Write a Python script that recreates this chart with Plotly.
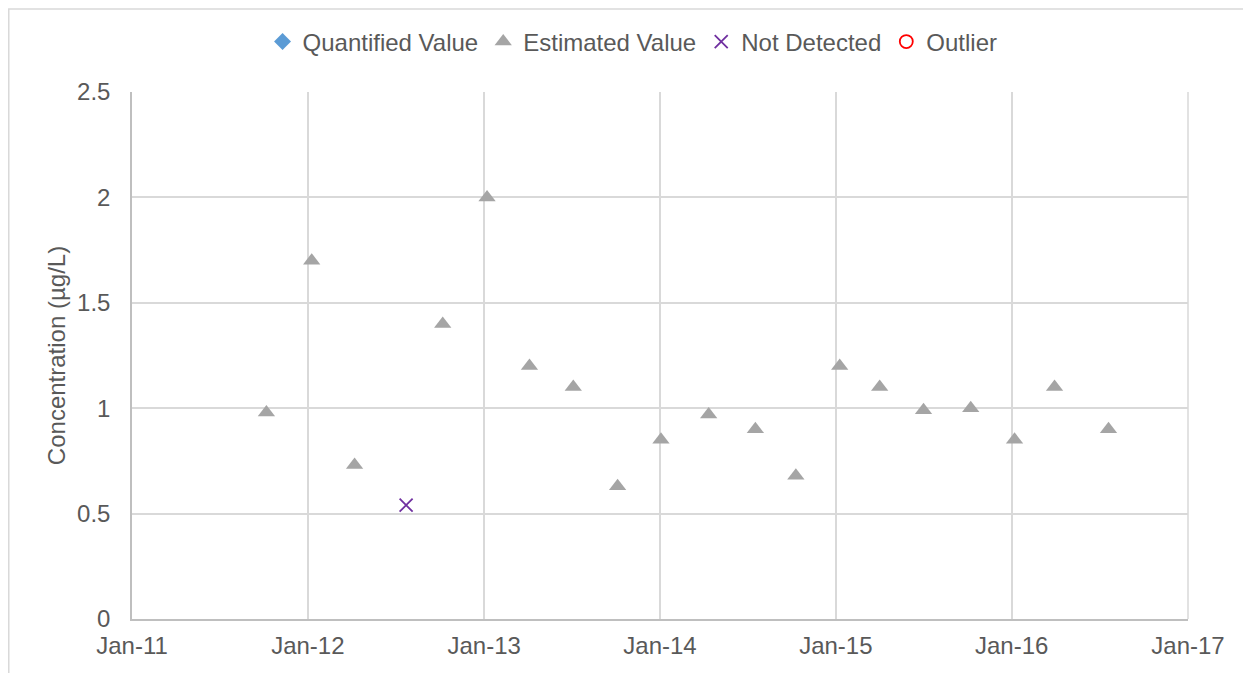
import plotly.graph_objects as go

# Data
est_dates = ["2011-10-07", "2012-01-09", "2012-04-07", "2012-10-07", "2013-01-07",
             "2013-04-05", "2013-07-05", "2013-10-05", "2014-01-03", "2014-04-12",
             "2014-07-18", "2014-10-10", "2015-01-09", "2015-04-02", "2015-07-02",
             "2015-10-08", "2016-01-07", "2016-03-30", "2016-07-20"]
est_values = [0.98, 1.7, 0.73, 1.4, 2.0, 1.2, 1.1, 0.63, 0.85, 0.97,
              0.9, 0.68, 1.2, 1.1, 0.99, 1.0, 0.85, 1.1, 0.9]
nd_dates = ["2012-07-23"]
nd_values = [0.54]
quant_dates = [None]
quant_values = [None]
outlier_dates = [None]
outlier_values = [None]

y_ticks = [0, 0.5, 1, 1.5, 2, 2.5]
y_ticklabels = ["0", "0.5", "1", "1.5", "2", "2.5"]

FONT = "Liberation Sans, Arial, sans-serif"
TXT = "#595959"

fig = go.Figure()
fig.add_trace(go.Scatter(x=quant_dates, y=quant_values, mode="markers", name="Quantified Value",
                         marker=dict(symbol="diamond", color="#5B9BD5", size=13)))
fig.add_trace(go.Scatter(x=est_dates, y=est_values, mode="markers", name="Estimated Value",
                         marker=dict(symbol="triangle-up", color="#A5A5A5", size=15)))
fig.add_trace(go.Scatter(x=nd_dates, y=nd_values, mode="markers", name="Not Detected",
                         marker=dict(symbol="x-thin-open", color="#7030A0", size=13,
                                     line=dict(color="#7030A0", width=1.8))))
fig.add_trace(go.Scatter(x=outlier_dates, y=outlier_values, mode="markers", name="Outlier",
                         marker=dict(symbol="circle-open", color="#FF0000", size=13,
                                     line=dict(color="#FF0000", width=1.8))))

fig.update_layout(
    width=1243, height=665,
    margin=dict(l=124, r=63, t=84, b=54, autoexpand=False),
    paper_bgcolor="white", plot_bgcolor="white",
    font=dict(family=FONT, size=24, color=TXT),
    showlegend=True,
    legend=dict(orientation="h", x=0.474, xanchor="center", y=1.095, yanchor="middle",
                font=dict(size=24, color=TXT), itemsizing="trace",
                itemwidth=30, tracegroupgap=0, bgcolor="rgba(0,0,0,0)"),
    xaxis=dict(type="date", range=["2011-01-01", "2017-01-01"],
               tickmode="linear", tick0="2011-01-01", dtick="M12", tickformat="%b-%y",
               showgrid=True, gridcolor="#D9D9D9", gridwidth=1.5,
               showline=True, linecolor="#BFBFBF", linewidth=1.5, mirror=False,
               ticks="outside", ticklen=4, tickcolor="rgba(0,0,0,0)",
               tickfont=dict(size=24, color=TXT), zeroline=False),
    yaxis=dict(range=[0, 2.5], tickmode="array", tickvals=y_ticks, ticktext=y_ticklabels,
               showgrid=True, gridcolor="#D9D9D9", gridwidth=1.5,
               showline=True, linecolor="#BFBFBF", linewidth=1.5,
               ticks="outside", ticklen=15, tickcolor="rgba(0,0,0,0)",
               tickfont=dict(size=24, color=TXT), zeroline=False,
               title=dict(text="Concentration (µg/L)", font=dict(size=24, color=TXT), standoff=5)),
    shapes=[
        dict(type="rect", xref="paper", yref="paper", x0=-0.1167, x1=1.0587, y0=-0.2, y1=1.1575,
             line=dict(color="#D9D9D9", width=1.5), fillcolor="rgba(0,0,0,0)", layer="below"),
        dict(type="line", xref="paper", yref="paper", x0=1, x1=1, y0=0, y1=1,
             line=dict(color="#D9D9D9", width=1.5)),
    ],
)

fig.write_html("out.html")
